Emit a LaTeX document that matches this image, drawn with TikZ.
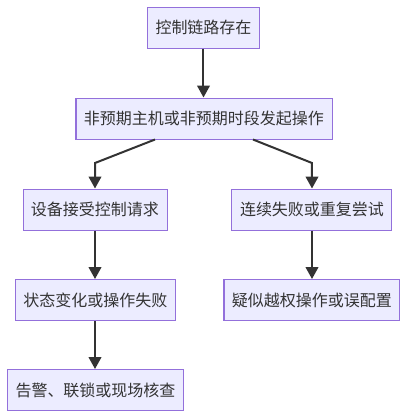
\documentclass[tikz,border=0pt]{standalone}
\usepackage{fontspec}
\newfontfamily\cjk{Noto Sans CJK SC}
\usepackage{tikz}
\usetikzlibrary{positioning}
\usetikzlibrary{arrows.meta}
\usetikzlibrary{calc}
\definecolor{fond}{HTML}{ECECFF}
\definecolor{bord}{HTML}{9370DB}
\definecolor{trait}{HTML}{333333}
\tikzstyle{line} = [draw=trait, line width=1.5pt, -{Triangle[length=9pt,width=9.5pt]}]

\begin{document}
\begin{tikzpicture}[x=0.75pt, y=-0.75pt,
				etape/.style = {rectangle,
					fill=fond, draw=bord, line width=0.75pt,
					inner xsep=6pt, inner ysep=0pt,
					minimum height=30.75pt,
					font=\cjk\fontsize{12pt}{14pt}\selectfont,
					text=trait}]
				
				\useasboundingbox (0,0) rectangle (408,419);
				
				% Top
				\node[etape] (lien) at (203.5,27.5) {控制链路存在};
				\node[etape] (hote) at (204,118.5) {非预期主机或非预期时段发起操作};
				
				% Left branch
				\node[etape] (accepte) at (95,209.5) {设备接受控制请求};
				\node[etape] (etat) at (95.5,300) {状态变化或操作失败};
				\node[etape] (alarme) at (95.5,390) {告警、联锁或现场核查};
				
				% Right branch
				\node[etape] (echecs) at (312,209.5) {连续失败或重复尝试};
				\node[etape] (abus) at (312,300) {疑似越权操作或误配置};
				
				% Arrows
				\path[line] (lien) -- (lien |- hote.north);
				\path[line] ($(hote.south)+(-49,0)$) -- (95,163) -- (accepte);
				\path[line] ($(hote.south)+(49,0)$) -- (312,163) -- (echecs);
				\path[line] (accepte) -- (accepte |- etat.north);
				\path[line] (accepte |- etat.south) -- (accepte |- alarme.north);
				\path[line] (echecs) -- (abus);
				
			\end{tikzpicture}
\end{document}
